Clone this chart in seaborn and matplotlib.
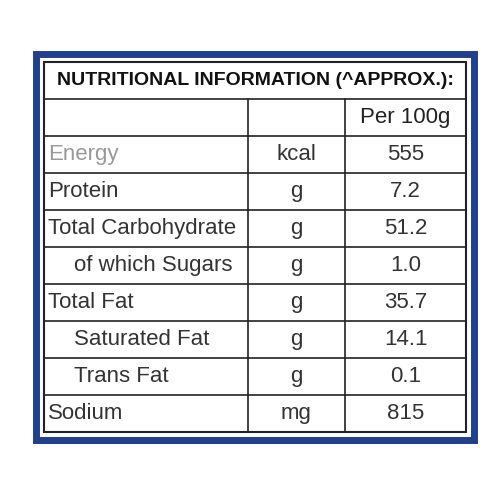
import matplotlib.pyplot as plt
import seaborn as sns

title = "NUTRITIONAL INFORMATION (^APPROX.):"
per_label = "Per 100g"
nutrients = ["Energy", "Protein", "Total Carbohydrate", "of which Sugars",
             "Total Fat", "Saturated Fat", "Trans Fat", "Sodium"]
indent = [0, 0, 0, 1, 0, 1, 1, 0]
units = ["kcal", "g", "g", "g", "g", "g", "g", "mg"]
values = ["555", "7.2", "51.2", "1.0", "35.7", "14.1", "0.1", "815"]

sns.set_style("white")
plt.rcParams['font.family'] = ['Liberation Sans Narrow', 'Liberation Sans', 'DejaVu Sans']

fig = plt.figure(figsize=(5, 5), dpi=100)
ax = fig.add_axes([0, 0, 1, 1])
ax.set_xlim(0, 500)
ax.set_ylim(500, 0)
ax.axis("off")

left, right = 44, 466
top, row_h = 62, 37
col1, col2 = 248, 345
n = len(nutrients) + 2
bottom = top + row_h * n

# blue frame
ax.add_patch(plt.Rectangle((left - 8, top - 8), right - left + 16, bottom - top + 16,
                           fill=False, edgecolor="#1f3f8f", lw=5))
ax.add_patch(plt.Rectangle((left, top), right - left, bottom - top,
                           fill=False, edgecolor="#222222", lw=1.5))
for i in range(1, n):
    y = top + i * row_h
    ax.plot([left, right], [y, y], color="#222222", lw=1.2)
for x in (col1, col2):
    ax.plot([x, x], [top + row_h, bottom], color="#222222", lw=1.2)

ax.text((left + right) / 2, top + row_h / 2, title, ha="center", va="center",
        fontsize=14, fontweight="bold", color="#111111")
ax.text((col2 + right) / 2, top + 1.5 * row_h, per_label, ha="center", va="center",
        fontsize=16, color="#222222")

for i, (name, ind, u, v) in enumerate(zip(nutrients, indent, units, values)):
    y = top + (i + 2.5) * row_h
    color = "#999999" if i == 0 else "#333333"
    ax.text(left + 4 + ind * 26, y, name, ha="left", va="center", fontsize=16, color=color)
    ax.text((col1 + col2) / 2, y, u, ha="center", va="center", fontsize=16, color="#333333")
    ax.text((col2 + right) / 2, y, v, ha="center", va="center", fontsize=16, color="#333333")

fig.savefig("out.png", dpi=100)
